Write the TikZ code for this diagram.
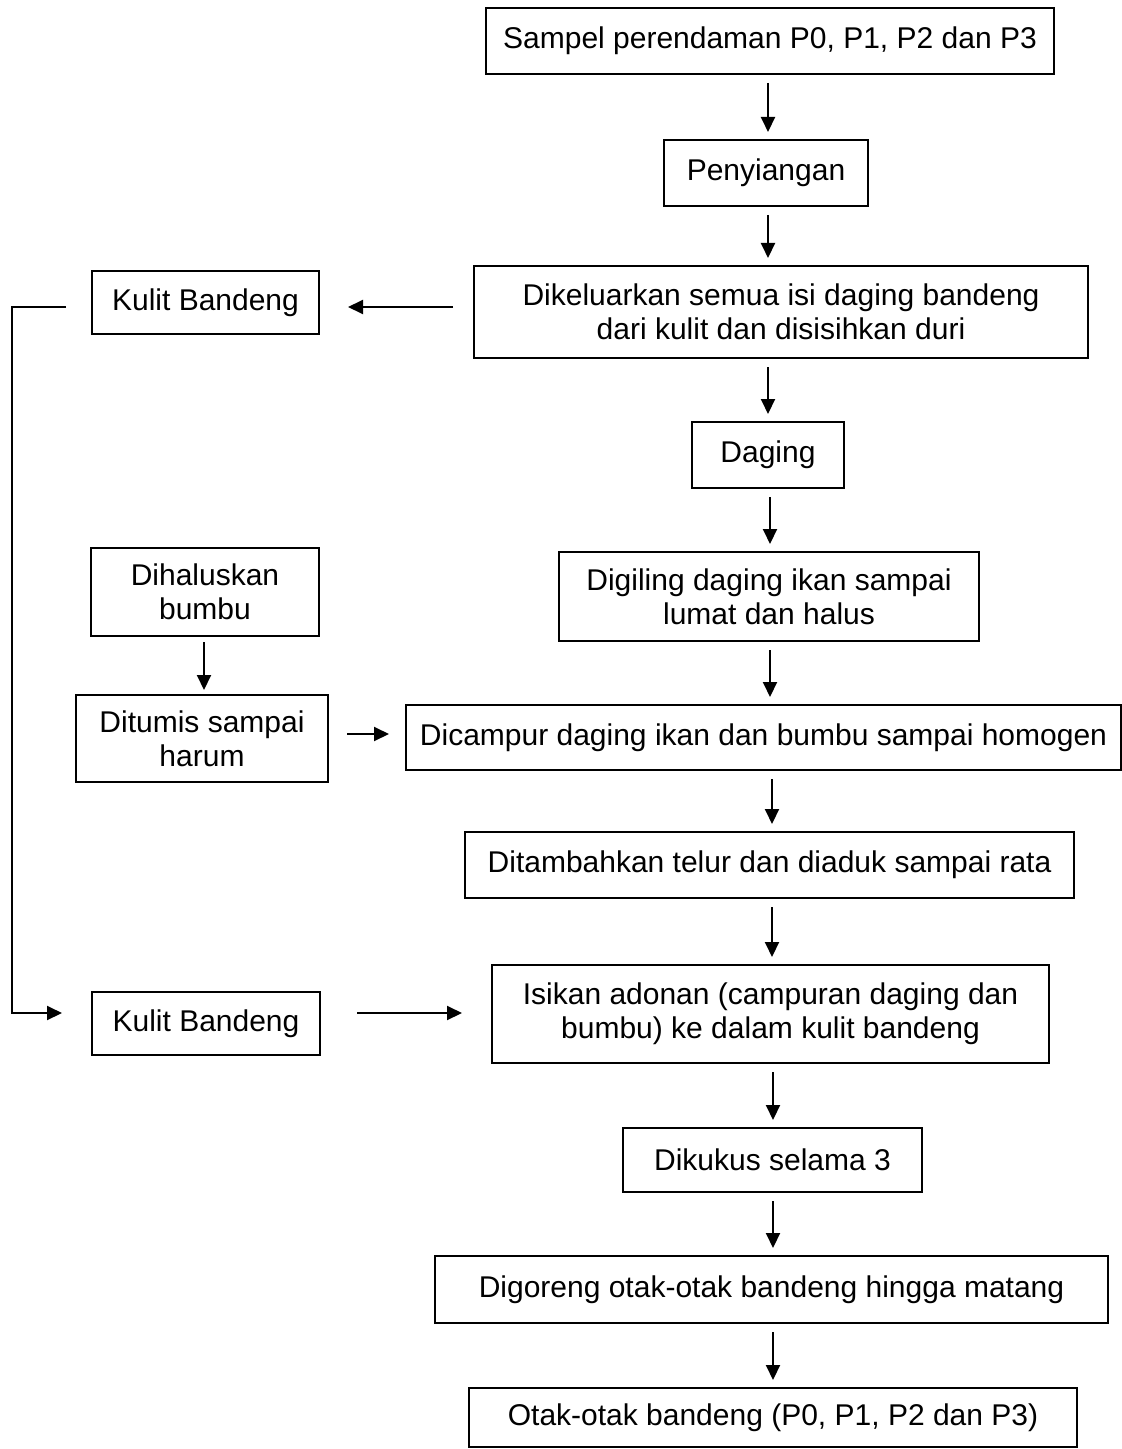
\documentclass[tikz,border=0pt]{standalone}
\usepackage{fontspec}
\setmainfont{Liberation Sans}
\usetikzlibrary{arrows.meta}
\begin{document}
\begin{tikzpicture}[x=0.5pt,y=-0.5pt,
  every node/.style={font=\fontsize{15}{17}\selectfont},
  box/.style={draw,line width=1pt,inner sep=0pt,align=center},
  arr/.style={line width=1pt,-{Triangle[length=7.5pt,width=7pt]}},
  varr/.style={arr,shorten <=4pt,shorten >=3.5pt}]
\useasboundingbox (0,0) rectangle (1122,1449);

% main process column
\node[box,minimum width=284pt,minimum height=33pt] (s1) at (770,41) {Sampel perendaman P0, P1, P2 dan P3};
\node[box,minimum width=102pt,minimum height=33pt] (s2) at (766,173) {Penyiangan};
\node[box,minimum width=307pt,minimum height=46pt] (s3) at (781,312) {Dikeluarkan semua isi daging bandeng\\dari kulit dan disisihkan duri};
\node[box,minimum width=76pt,minimum height=33pt] (s4) at (768,455) {Daging};
\node[box,minimum width=210pt,minimum height=44.5pt] (s5) at (769,596.5) {Digiling daging ikan sampai\\lumat dan halus};
\node[box,minimum width=357.5pt,minimum height=32.5pt] (s6) at (763.5,737.5) {Dicampur daging ikan dan bumbu sampai homogen};
\node[box,minimum width=304.5pt,minimum height=33pt] (s7) at (769.5,865) {Ditambahkan telur dan diaduk sampai rata};
\node[box,minimum width=278.5pt,minimum height=49pt] (s8) at (770.5,1014) {Isikan adonan (campuran daging dan\\bumbu) ke dalam kulit bandeng};
\node[box,minimum width=149.5pt,minimum height=32pt] (s9) at (772.5,1160) {Dikukus selama 3};
\node[box,minimum width=336.5pt,minimum height=33.5pt] (s10) at (771.5,1289.5) {Digoreng otak-otak bandeng hingga matang};
\node[box,minimum width=304pt,minimum height=29.5pt] (s11) at (773,1417.5) {Otak-otak bandeng (P0, P1, P2 dan P3)};

% side boxes
\node[box,minimum width=113.5pt,minimum height=31.5pt] (k1) at (205.5,302.5) {Kulit Bandeng};
\node[box,minimum width=114pt,minimum height=44pt] (h1) at (205,592) {Dihaluskan\\bumbu};
\node[box,minimum width=126pt,minimum height=43.5pt] (h2) at (202,738.5) {Ditumis sampai\\harum};
\node[box,minimum width=114pt,minimum height=31.5pt] (k2) at (206,1023.5) {Kulit Bandeng};

% reference coordinates for connector lines
\coordinate (x768) at (768,0);
\coordinate (x770) at (770,0);
\coordinate (x772) at (772,0);
\coordinate (x773) at (773,0);
\coordinate (x204) at (204,0);
\coordinate (ret) at (12,0);
\coordinate (r1) at (0,307);
\coordinate (r2) at (0,1013);
\coordinate (r3) at (0,734);

% vertical flow
\draw[varr] (s1.south -| x768) -- (s2.north -| x768);
\draw[varr] (s2.south -| x768) -- (s3.north -| x768);
\draw[varr] (s3.south -| x768) -- (s4.north -| x768);
\draw[varr] (s4.south -| x770) -- (s5.north -| x770);
\draw[varr] (s5.south -| x770) -- (s6.north -| x770);
\draw[varr] (s6.south -| x772) -- (s7.north -| x772);
\draw[varr] (s7.south -| x772) -- (s8.north -| x772);
\draw[varr] (s8.south -| x773) -- (s9.north -| x773);
\draw[varr] (s9.south -| x773) -- (s10.north -| x773);
\draw[varr] (s10.south -| x773) -- (s11.north -| x773);
\draw[arr,shorten <=2.5pt,shorten >=2pt] (h1.south -| x204) -- (h2.north -| x204);

% side connectors
\draw[arr,shorten <=10pt,shorten >=14pt] (s3.west |- r1) -- (k1.east |- r1);
\draw[arr,shorten <=9pt,shorten >=8pt] (h2.east |- r3) -- (s6.west |- r3);
\draw[arr,shorten <=18pt,shorten >=14.5pt] (k2.east |- r2) -- (s8.west |- r2);
\draw[arr,shorten >=14.5pt] ([xshift=-12.5pt]k1.west |- r1) -- (ret |- r1) -- (ret |- r2) -- (k2.west |- r2);
\end{tikzpicture}
\end{document}
